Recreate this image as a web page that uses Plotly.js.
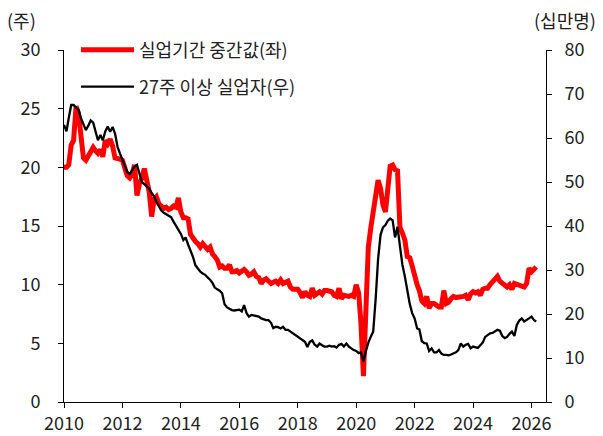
<!DOCTYPE html>
<html>
<head>
<meta charset="utf-8">
<script src="https://cdn.plot.ly/plotly-3.0.1.min.js"></script>
<style>html,body{margin:0;padding:0;background:#fff;}#chart{width:603px;height:436px;}</style>
</head>
<body>
<div id="chart"></div>
<script>
// Monthly data, Jan 2010 .. Mar 2026
const START_YEAR = 2010;
const seriesNames = ['실업기간 중간값(좌)', '27주 이상 실업자(우)'];
const leftUnit = '(주)';
const rightUnit = '(십만명)';

// 실업기간 중간값 (weeks)
const medianWeeks = [
  20.0, 20.0, 20.2, 21.9, 22.3, 25.2, 24.6, 22.5, 20.8, 20.6, 21.0, 21.3, // 2010
  21.7, 21.4, 21.2, 21.5, 20.9, 22.3, 22.0, 22.4, 21.8, 20.8, 20.8, 20.7, // 2011
  20.6, 19.9, 19.3, 19.1, 19.4, 20.2, 17.6, 18.6, 19.1, 19.9, 18.6, 17.9, // 2012
  15.8, 17.3, 17.5, 16.9, 16.7, 16.5, 16.6, 16.4, 16.5, 16.7, 16.6, 17.4, // 2013
  16.2, 15.7, 15.7, 15.6, 14.3, 13.9, 13.7, 13.5, 13.2, 13.5, 13.2, 13.0, // 2014
  13.2, 12.6, 12.4, 12.1, 11.5, 11.6, 11.4, 11.4, 11.7, 11.1, 11.1, 11.2, // 2015
  11.0, 11.2, 11.3, 11.1, 10.8, 10.9, 11.1, 10.7, 10.6, 10.1, 10.4, 10.5, // 2016
  10.3, 10.1, 10.2, 10.3, 10.1, 10.4, 10.1, 10.2, 10.3,  9.8,  9.6,  9.6, // 2017
   9.6,  9.3,  8.9,  9.4,  9.1,  9.0,  9.7,  9.1,  9.2,  9.4,  9.2,  9.5, // 2018
   9.5,  9.4,  9.4,  9.1,  9.0,  9.7,  8.8,  9.1,  9.0,  9.0,  9.1,  9.0, // 2019
  10.0,  9.3,  6.7,  2.2,  7.7, 13.2, 14.8, 16.0, 17.2, 18.9, 18.2, 16.8, // 2020
  16.2, 17.9, 20.1, 20.2, 19.8, 19.7, 14.9, 14.4, 13.8, 12.4, 12.3, 11.6, // 2021
  10.6, 10.0,  9.5,  8.6,  8.4,  9.0,  8.0,  8.4,  8.4,  8.2,  8.1,  8.1, // 2022
   9.5,  8.4,  8.5,  8.8,  9.0,  8.9,  8.9,  9.0,  9.0,  9.1,  8.7,  9.2, // 2023
   9.4,  9.3,  9.4,  9.1,  9.6,  9.7,  9.7, 10.0, 10.2, 10.5, 10.7, 10.3, // 2024
  10.1,  9.9,  9.8, 10.0,  9.6, 10.1, 10.0,  9.9,  9.9,  9.8, 10.1, 11.4, // 2025
  11.1, 11.3, 11.5                                                        // 2026
];

// 27주 이상 실업자 (십만명)
const longTermUnemployed = [
  63.0, 61.5, 64.5, 67.5, 67.5, 67.0, 66.4, 64.5, 63.0, 61.8, 62.8, 64.0, // 2010
  63.5, 61.4, 59.5, 60.7, 59.5, 61.5, 62.6, 61.4, 62.5, 61.0, 58.0, 56.5, // 2011
  55.0, 53.3, 52.3, 51.8, 52.5, 53.5, 53.9, 52.0, 50.0, 49.5, 49.0, 48.5, // 2012
  47.5, 46.7, 45.5, 44.5, 43.5, 43.0, 42.7, 42.5, 42.0, 41.0, 40.0, 39.0, // 2013
  38.2, 36.8, 37.4, 35.8, 34.5, 33.0, 31.1, 30.4, 29.6, 29.2, 28.9, 28.3, // 2014
  27.8, 27.0, 26.0, 25.6, 25.3, 24.7, 22.2, 21.5, 21.1, 20.9, 20.8, 20.9, // 2015
  21.0, 20.6, 22.0, 20.2, 19.4, 19.8, 19.7, 19.6, 19.4, 19.0, 18.7, 18.6, // 2016
  18.6, 18.0, 16.8, 17.1, 17.0, 16.7, 17.1, 16.4, 16.4, 16.0, 15.6, 15.2, // 2017
  14.8, 14.5, 14.1, 13.7, 12.5, 13.7, 14.0, 13.0, 12.6, 13.3, 12.9, 12.6, // 2018
  12.6, 12.8, 12.6, 12.7, 12.4, 13.0, 13.2, 12.6, 13.3, 12.6, 12.2, 11.8, // 2019
  11.6, 11.1, 11.3,  9.2, 11.5, 13.5, 14.8, 16.0, 23.5, 32.5, 38.0, 39.7, // 2020
  40.2, 41.2, 41.7, 41.3, 37.4, 39.8, 35.5, 31.2, 28.5, 25.3, 22.3, 20.2, // 2021
  19.0, 16.7, 16.5, 13.8, 13.4, 13.3, 11.6, 12.2, 11.3, 11.3, 11.8, 11.0, // 2022
  10.7, 10.7, 10.6, 10.8, 11.1, 11.3, 11.8, 13.3, 12.6, 13.0, 13.2, 12.2, // 2023
  12.6, 12.4, 12.3, 12.9, 13.5, 14.8, 15.3, 15.6, 15.7, 16.1, 16.4, 16.2, // 2024
  15.0, 14.5, 14.8, 15.5, 16.0, 15.0, 17.5, 18.5, 19.0, 18.3, 18.6, 19.0, // 2025
  19.4, 18.6, 18.3                                                        // 2026
];

const leftTicks = [0, 5, 10, 15, 20, 25, 30];
const rightTicks = [0, 10, 20, 30, 40, 50, 60, 70, 80];
const yearTicks = ['2010','2012','2014','2016','2018','2020','2022','2024','2026'];

// month date strings
const months = medianWeeks.map(function (_, i) {
  const y = START_YEAR + Math.floor(i / 12);
  const m = (i % 12) + 1;
  return y + '-' + (m < 10 ? '0' + m : m) + '-01';
});

const FONT = '"Noto Sans CJK KR", "Noto Sans", sans-serif';
const TXT = '#222';

const traces = [
  {
    x: months, y: medianWeeks, name: seriesNames[0], type: 'scatter', mode: 'lines',
    line: {color: '#ff0000', width: 5}, yaxis: 'y', legend: 'legend'
  },
  {
    x: months, y: longTermUnemployed, name: seriesNames[1], type: 'scatter', mode: 'lines',
    line: {color: '#000000', width: 2.3}, yaxis: 'y2', legend: 'legend2'
  }
];

const axisCommon = {
  showgrid: false, zeroline: false, showline: true, linecolor: '#000', linewidth: 1,
  ticks: 'outside', ticklen: 5, tickwidth: 1, tickcolor: '#000',
  tickfont: {family: FONT, size: 18, color: TXT}
};

const layout = {
  width: 603, height: 436,
  margin: {l: 64, r: 57, t: 50, b: 34, pad: 0},
  paper_bgcolor: '#fff', plot_bgcolor: '#fff',
  font: {family: FONT, size: 18, color: TXT},
  xaxis: Object.assign({}, axisCommon, {
    type: 'date', range: ['2010-01-01', '2026-07-01'],
    tickvals: yearTicks.map(function (t) { return t + '-01-01'; }),
    ticktext: yearTicks, ticklabelstandoff: 0
  }),
  yaxis: Object.assign({}, axisCommon, {
    range: [0, 30], tickvals: leftTicks, ticktext: leftTicks.map(String), ticklabelstandoff: 14
  }),
  yaxis2: Object.assign({}, axisCommon, {
    range: [0, 80], tickvals: rightTicks, ticktext: rightTicks.map(String),
    overlaying: 'y', side: 'right', ticklabelstandoff: 9
  }),
  legend: {
    x: 0.0249, y: 1.0, xanchor: 'left', yanchor: 'middle', bgcolor: 'rgba(0,0,0,0)',
    font: {family: FONT, size: 18, color: TXT}, itemwidth: 53, borderwidth: 0
  },
  legend2: {
    x: 0.0249, y: 0.895, xanchor: 'left', yanchor: 'middle', bgcolor: 'rgba(0,0,0,0)',
    font: {family: FONT, size: 18, color: TXT}, itemwidth: 53, borderwidth: 0
  },
  showlegend: true,
  annotations: [
    {text: leftUnit, xref: 'paper', yref: 'paper', x: -0.1225, y: 1.085, xanchor: 'left', yanchor: 'middle',
     showarrow: false, font: {family: FONT, size: 18, color: TXT}},
    {text: rightUnit, xref: 'paper', yref: 'paper', x: 1.1086, y: 1.085, xanchor: 'right', yanchor: 'middle',
     showarrow: false, font: {family: FONT, size: 18, color: TXT}}
  ]
};

Plotly.newPlot('chart', traces, layout, {displayModeBar: false, staticPlot: true});
</script>
</body>
</html>
